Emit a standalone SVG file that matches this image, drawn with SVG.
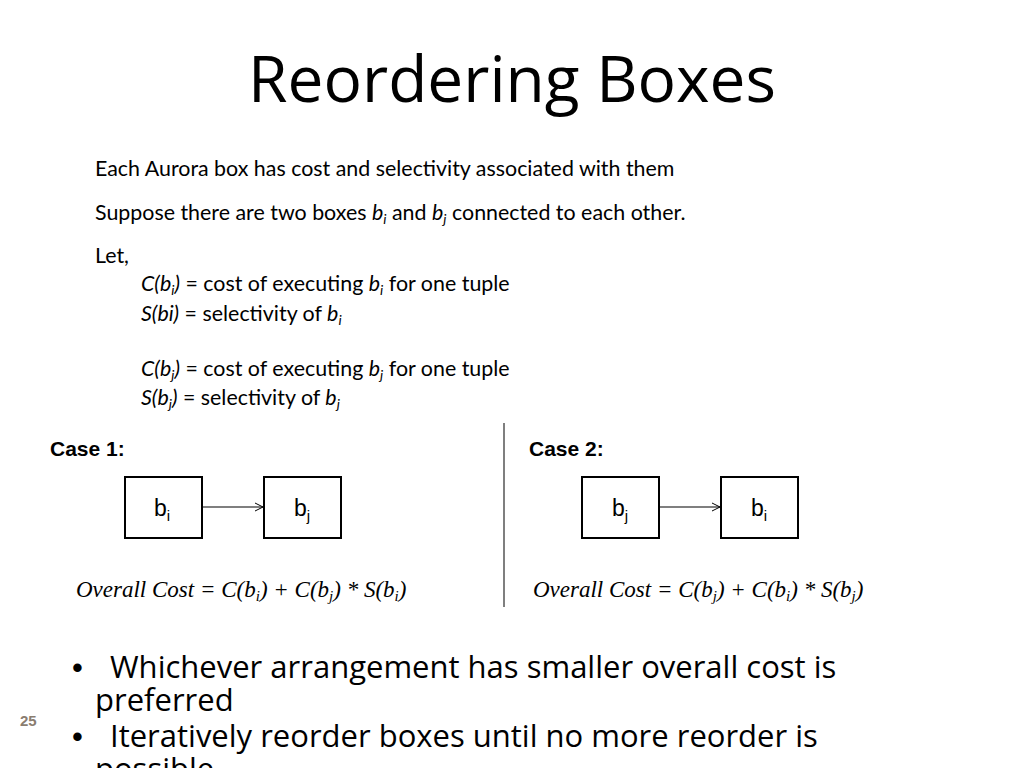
<svg xmlns="http://www.w3.org/2000/svg" width="1024" height="768" viewBox="0 0 1024 768">
<style>
.t{font-family:Lato,"Liberation Sans",sans-serif;font-size:21.4px;fill:#000}
.c{font-family:"Liberation Sans",Arial,sans-serif;font-weight:bold;font-size:21px}
.bx{fill:#fff;stroke:#000;stroke-width:2}
.bl{font-family:"Liberation Sans",Arial,sans-serif;font-size:23px;text-anchor:middle}
.f{font-family:"Liberation Serif","Times New Roman",serif;font-style:italic;font-size:23px}
.b{font-family:"Open Sans","Noto Sans",sans-serif;font-size:31px}
.s{font-size:65%}
</style>
<defs><marker id="a" markerWidth="10" markerHeight="10" refX="9" refY="5" orient="auto" markerUnits="userSpaceOnUse"><path d="M1,1 L9,5 L1,9" fill="none" stroke="#000" stroke-width="1"/></marker></defs>
<text x="512" y="102" text-anchor="middle" font-family="'Open Sans','Noto Sans',sans-serif" font-size="64">Reordering Boxes</text>
<text class="t" x="95" y="176">Each Aurora box has cost and selectivity associated with them</text>
<text class="t" x="95" y="220">Suppose there are two boxes <tspan font-style="italic">b<tspan class="s" dy="4">i</tspan></tspan><tspan dy="-4"> and </tspan><tspan font-style="italic">b<tspan class="s" dy="4">j</tspan></tspan><tspan dy="-4"> connected to each other.</tspan></text>
<text class="t" x="95" y="263">Let,</text>
<text class="t" x="141" y="291"><tspan font-style="italic">C(b<tspan class="s" dy="4">i</tspan><tspan dy="-4">)</tspan></tspan> = cost of executing <tspan font-style="italic">b<tspan class="s" dy="4">i</tspan></tspan><tspan dy="-4"> for one tuple</tspan></text>
<text class="t" x="141" y="321"><tspan font-style="italic">S(bi)</tspan> = selectivity of <tspan font-style="italic">b<tspan class="s" dy="4">i</tspan></tspan></text>
<text class="t" x="141" y="376"><tspan font-style="italic">C(b<tspan class="s" dy="4">j</tspan><tspan dy="-4">)</tspan></tspan> = cost of executing <tspan font-style="italic">b<tspan class="s" dy="4">j</tspan></tspan><tspan dy="-4"> for one tuple</tspan></text>
<text class="t" x="141" y="405"><tspan font-style="italic">S(b<tspan class="s" dy="4">j</tspan><tspan dy="-4">)</tspan></tspan> = selectivity of <tspan font-style="italic">b<tspan class="s" dy="4">j</tspan></tspan></text>
<line x1="504" y1="423" x2="504" y2="607" stroke="#555" stroke-width="1.5"/>
<text class="c" x="50" y="456">Case 1:</text>
<text class="c" x="529" y="456">Case 2:</text>
<g id="c1bi"><rect class="bx" x="125" y="477" width="77" height="61"/><text class="bl" x="162" y="516">b<tspan class="s" dy="5">i</tspan></text></g>
<g id="c1bj"><rect class="bx" x="264" y="477" width="77" height="61"/><text class="bl" x="302" y="516">b<tspan class="s" dy="5">j</tspan></text></g>
<g id="c2bj"><rect class="bx" x="582" y="477" width="77" height="61"/><text class="bl" x="620" y="516">b<tspan class="s" dy="5">j</tspan></text></g>
<g id="c2bi"><rect class="bx" x="721" y="477" width="77" height="61"/><text class="bl" x="759" y="516">b<tspan class="s" dy="5">i</tspan></text></g>
<g id="connectors" stroke="#000" stroke-width="1.2">
<line x1="203" y1="507" x2="263" y2="507" marker-end="url(#a)"/>
<line x1="660" y1="507" x2="720" y2="507" marker-end="url(#a)"/>
</g>
<text class="f" x="76" y="597">Overall Cost = C(b<tspan class="s" dy="4">i</tspan><tspan dy="-4">) + C(b</tspan><tspan class="s" dy="4">j</tspan><tspan dy="-4">) * S(b</tspan><tspan class="s" dy="4">i</tspan><tspan dy="-4">)</tspan></text>
<text class="f" x="533" y="597">Overall Cost = C(b<tspan class="s" dy="4">j</tspan><tspan dy="-4">) + C(b</tspan><tspan class="s" dy="4">i</tspan><tspan dy="-4">) * S(b</tspan><tspan class="s" dy="4">j</tspan><tspan dy="-4">)</tspan></text>
<text class="b" x="72" y="678"><tspan font-family="'Liberation Sans',sans-serif">•</tspan><tspan x="110">Whichever arrangement has smaller overall cost is</tspan></text>
<text class="b" x="95" y="711">preferred</text>
<text class="b" x="72" y="747"><tspan font-family="'Liberation Sans',sans-serif">•</tspan><tspan x="110">Iteratively reorder boxes until no more reorder is</tspan></text>
<text class="b" x="95" y="780">possible</text>
<text x="20" y="726" font-family="'Liberation Sans',sans-serif" font-weight="bold" font-size="15" fill="#8a7d70">25</text>
</svg>
